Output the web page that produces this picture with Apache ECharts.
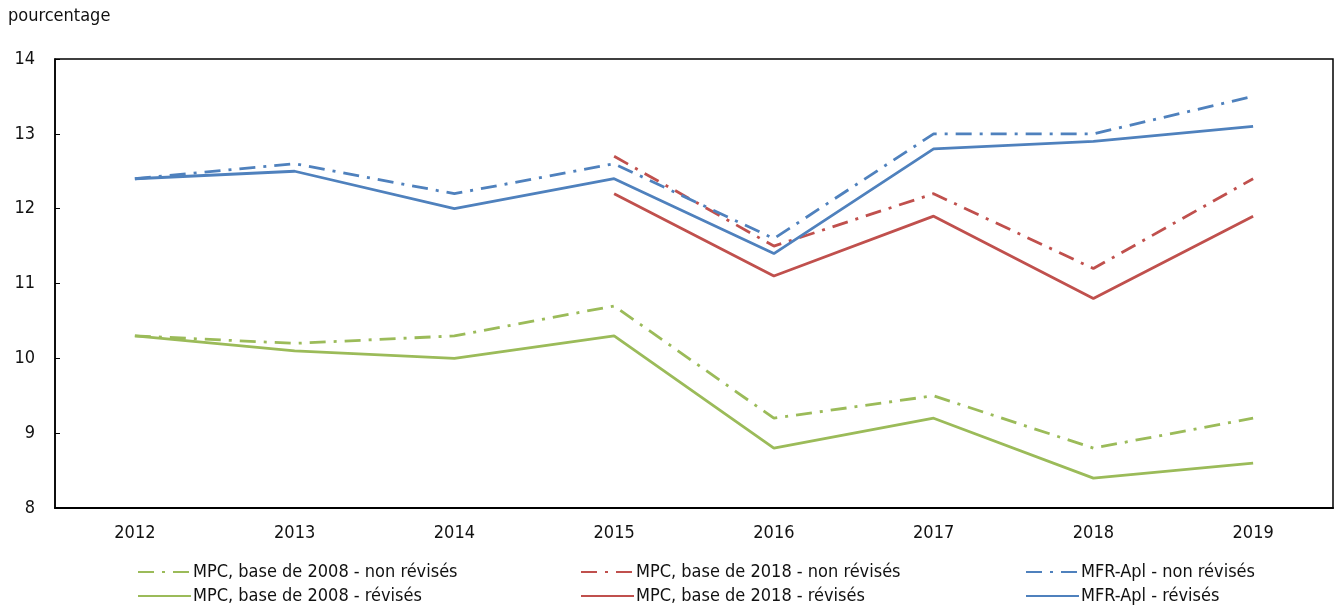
<!DOCTYPE html>
<html>
<head>
<meta charset="utf-8">
<script src="https://cdn.jsdelivr.net/npm/echarts@6/dist/echarts.min.js"></script>
<style>
html,body{margin:0;padding:0;background:#fff;}
#chart{width:1336px;height:608px;}
</style>
</head>
<body>
<div id="chart"></div>
<script>
const years = ['2012','2013','2014','2015','2016','2017','2018','2019'];
const mpc2008NonRev = [10.3, 10.2, 10.3, 10.7, 9.2, 9.5, 8.8, 9.2];
const mpc2008Rev = [10.3, 10.1, 10.0, 10.3, 8.8, 9.2, 8.4, 8.6];
const mpc2018NonRev = [null, null, null, 12.7, 11.5, 12.2, 11.2, 12.4];
const mpc2018Rev = [null, null, null, 12.2, 11.1, 11.9, 10.8, 11.9];
const mfrNonRev = [12.4, 12.6, 12.2, 12.6, 11.6, 13.0, 13.0, 13.5];
const mfrRev = [12.4, 12.5, 12.0, 12.4, 11.4, 12.8, 12.9, 13.1];
const yTicks = [8, 9, 10, 11, 12, 13, 14];

const GREEN = '#9bbb59', RED = '#c0504d', BLUE = '#4f81bd';
const FONT = '"DejaVu Sans Condensed", "Liberation Sans Narrow", "Roboto", sans-serif';
const DASH = [16, 8, 3, 8];

function mk(name, data, color, dashed) {
  return {
    name: name, type: 'line', data: data, symbol: 'none', connectNulls: false,
    lineStyle: { color: color, width: 2.8, type: dashed ? DASH : 'solid' },
    itemStyle: { color: color },
    animation: false
  };
}

const names = [
  'MPC, base de 2008 - non révisés', 'MPC, base de 2008 - révisés',
  'MPC, base de 2018 - non révisés', 'MPC, base de 2018 - révisés',
  'MFR-Apl - non révisés', 'MFR-Apl - révisés'
];

function legend(left, top, name) {
  return {
    left: left, top: top, orient: 'horizontal', itemWidth: 53, itemHeight: 14, padding: 0,
    itemStyle: { opacity: 0 },
    data: [name],
    textStyle: { fontFamily: FONT, fontSize: 18, color: '#111', padding: [0,0,0,-3] }
  };
}

const chart = echarts.init(document.getElementById('chart'), null, { renderer: 'canvas' });
chart.setOption({
  backgroundColor: '#fff',
  animation: false,
  title: {
    text: 'pourcentage', left: 8, top: 7, padding: 0,
    textStyle: { fontFamily: FONT, fontSize: 18, fontWeight: 'normal', color: '#111' }
  },
  grid: { left: 55, right: 3, top: 59, bottom: 100, show: true, borderColor: '#000', borderWidth: 1.5, backgroundColor: 'transparent' },
  legend: [
    legend(137, 563, names[0]), legend(137, 587, names[1]),
    legend(580, 563, names[2]), legend(580, 587, names[3]),
    legend(1025, 563, names[4]), legend(1025, 587, names[5])
  ],
  xAxis: {
    type: 'category', data: years, boundaryGap: true,
    axisLine: { lineStyle: { color: '#000', width: 2 } },
    axisTick: { inside: true, alignWithLabel: true, length: 5, lineStyle: { color: '#000' } },
    axisLabel: { fontFamily: FONT, fontSize: 18, color: '#111', margin: 16 },
    splitLine: { show: false }
  },
  yAxis: {
    type: 'value', min: 8, max: 14, interval: 1,
    axisLine: { show: true, lineStyle: { color: '#000', width: 1.5 } },
    axisTick: { show: true, inside: true, length: 5, lineStyle: { color: '#000' } },
    axisLabel: { fontFamily: FONT, fontSize: 18, color: '#111', margin: 20,
      formatter: function (v) { return yTicks.indexOf(v) >= 0 ? String(v) : ''; } },
    splitLine: { show: false }
  },
  series: [
    mk(names[0], mpc2008NonRev, GREEN, true),
    mk(names[1], mpc2008Rev, GREEN, false),
    mk(names[2], mpc2018NonRev, RED, true),
    mk(names[3], mpc2018Rev, RED, false),
    mk(names[4], mfrNonRev, BLUE, true),
    mk(names[5], mfrRev, BLUE, false)
  ]
});
</script>
</body>
</html>
